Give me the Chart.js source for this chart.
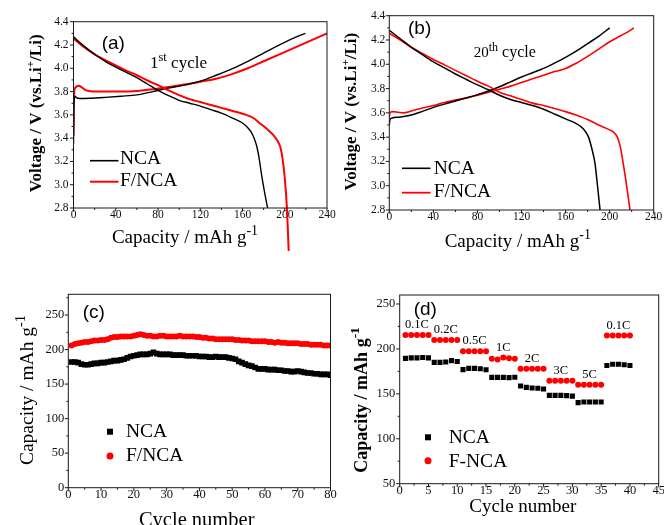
<!DOCTYPE html>
<html><head><meta charset="utf-8">
<script src="https://cdn.jsdelivr.net/npm/chart.js@4.4.0/dist/chart.umd.min.js"></script>
<style>
html,body{margin:0;padding:0;background:#fff;}
#wrap{position:relative;width:664px;height:525px;overflow:hidden;background:#fff;}
canvas{position:absolute;left:0;top:0;}
</style></head><body>
<div id="wrap">
<canvas id="pa" width="664" height="525"></canvas>
<canvas id="pb" width="664" height="525"></canvas>
<canvas id="pc" width="664" height="525"></canvas>
<canvas id="pd" width="664" height="525"></canvas>
</div>
<script>
// ---------------- DATA ----------------
// Panel (a): 1st cycle charge/discharge (capacity mAh/g, voltage V)
const aNcaChargeCap = [0, 0.5, 1.5, 3, 6, 15, 30, 45, 60, 75, 90, 105, 120, 135, 150, 165, 180, 195, 210, 219.5];
const aNcaChargeV   = [3.35, 3.70, 3.76, 3.745, 3.74, 3.742, 3.75, 3.76, 3.772, 3.80, 3.83, 3.855, 3.89, 3.94, 3.995, 4.06, 4.13, 4.20, 4.265, 4.30];
const aFncaChargeCap = [0, 0.5, 1.5, 3, 5, 8, 12, 20, 30, 45, 60, 75, 90, 105, 120, 135, 150, 165, 180, 195, 210, 225, 240];
const aFncaChargeV   = [3.42, 3.78, 3.83, 3.845, 3.85, 3.835, 3.81, 3.80, 3.80, 3.80, 3.805, 3.82, 3.84, 3.86, 3.885, 3.91, 3.95, 4.00, 4.06, 4.12, 4.18, 4.24, 4.30];
const aNcaDischCap = [0, 10, 20, 30, 40, 50, 60, 70, 80, 90, 100, 110, 120, 130, 140, 150, 160, 165, 168, 171, 173.5, 175.5, 177, 178.5, 181, 183.8];
const aNcaDischV   = [4.27, 4.19, 4.12, 4.06, 4.01, 3.965, 3.92, 3.865, 3.81, 3.765, 3.725, 3.70, 3.675, 3.645, 3.615, 3.575, 3.53, 3.49, 3.455, 3.40, 3.33, 3.24, 3.15, 3.06, 2.93, 2.80];
const aFncaDischCap = [0, 10, 20, 30, 40, 50, 60, 70, 80, 90, 100, 110, 120, 130, 140, 150, 160, 170, 177, 183, 189.5, 193, 195.8, 198, 200, 202, 203, 203.7];
const aFncaDischV   = [4.255, 4.18, 4.12, 4.07, 4.025, 3.98, 3.94, 3.895, 3.855, 3.81, 3.77, 3.735, 3.71, 3.685, 3.66, 3.635, 3.61, 3.575, 3.524, 3.48, 3.423, 3.38, 3.323, 3.22, 3.06, 2.81, 2.60, 2.43];
const aTicksX = [0, 40, 80, 120, 160, 200, 240];
const aTicksY = [2.8, 3.0, 3.2, 3.4, 3.6, 3.8, 4.0, 4.2, 4.4];

// Panel (b): 20th cycle
const bNcaChargeCap = [0, 0.5, 2, 10, 20, 30, 40, 50, 60, 70, 80, 90, 100, 110, 120, 130, 140, 150, 160, 170, 180, 190, 200];
const bNcaChargeV   = [3.50, 3.54, 3.555, 3.565, 3.582, 3.612, 3.645, 3.672, 3.697, 3.722, 3.75, 3.78, 3.815, 3.855, 3.895, 3.93, 3.966, 4.01, 4.057, 4.11, 4.17, 4.23, 4.30];
const bFncaChargeCap = [0, 0.5, 3, 8, 13, 20, 30, 40, 50, 60, 70, 80, 90, 100, 110, 120, 130, 140, 150, 160, 170, 180, 190, 200, 210, 218, 222];
const bFncaChargeV   = [3.56, 3.60, 3.61, 3.605, 3.60, 3.615, 3.64, 3.66, 3.685, 3.705, 3.725, 3.745, 3.77, 3.795, 3.82, 3.85, 3.88, 3.91, 3.94, 3.965, 4.01, 4.065, 4.125, 4.185, 4.235, 4.275, 4.30];
const bNcaDischCap = [0, 10, 20, 30, 40, 50, 60, 70, 80, 90, 100, 110, 120, 130, 140, 150, 160, 170, 176, 180.7, 184, 186.7, 189, 191.3];
const bNcaDischV   = [4.28, 4.21, 4.14, 4.08, 4.02, 3.97, 3.92, 3.875, 3.83, 3.79, 3.745, 3.71, 3.685, 3.66, 3.63, 3.59, 3.55, 3.51, 3.47, 3.404, 3.30, 3.184, 3.00, 2.80];
const bFncaDischCap = [0, 10, 20, 30, 40, 50, 60, 70, 80, 90, 100, 110, 120, 130, 140, 150, 160, 170, 180, 190, 200, 204, 207, 209.7, 212, 214.3, 216.5, 218.5];
const bFncaDischV   = [4.255, 4.20, 4.14, 4.09, 4.04, 3.995, 3.95, 3.905, 3.86, 3.82, 3.77, 3.74, 3.71, 3.68, 3.66, 3.635, 3.61, 3.58, 3.545, 3.50, 3.46, 3.437, 3.40, 3.32, 3.20, 3.07, 2.93, 2.80];
const bTicksX = [0, 40, 80, 120, 160, 200, 240];
const bTicksY = [2.8, 3.0, 3.2, 3.4, 3.6, 3.8, 4.0, 4.2, 4.4];

// Panel (c): cycling (cycle number, capacity mAh/g)
const cCycles = [1,2,3,4,5,6,7,8,9,10,11,12,13,14,15,16,17,18,19,20,21,22,23,24,25,26,27,28,29,30,31,32,33,34,35,36,37,38,39,40,41,42,43,44,45,46,47,48,49,50,51,52,53,54,55,56,57,58,59,60,61,62,63,64,65,66,67,68,69,70,71,72,73,74,75,76,77,78,79,80];
const cNca = [182,182,181,179,178,178,179,180,180,181,181,182,183,184,184,185,186,188,190,191,192,193,193,193,194,196,194,193,193,193,193,192,192,192,192,191,191,191,191,190,190,190,189,189,190,189,189,189,188,187,186,183,181,179,177,176,174,172,172,172,171,171,171,170,170,169,169,168,168,169,168,167,166,166,165,165,164,164,164,163];
const cFnca = [206,208,209,210,211,211,212,213,213,214,214,215,217,218,218,219,219,219,219,220,221,222,221,220,220,219,219,220,220,219,219,219,219,220,219,219,219,219,218,218,217,217,216,216,215,215,215,215,215,215,214,214,213,213,213,212,212,212,212,212,211,211,210,211,210,210,209,209,209,209,208,208,208,207,207,207,207,206,206,206];
const cTicksX = [0, 10, 20, 30, 40, 50, 60, 70, 80];
const cTicksY = [0, 50, 100, 150, 200, 250];

// Panel (d): rate capability
const dCycles = [1,2,3,4,5,6,7,8,9,10,11,12,13,14,15,16,17,18,19,20,21,22,23,24,25,26,27,28,29,30,31,32,33,34,35,36,37,38,39,40];
const dNca  = [189.5,190,190,190.5,190, 185,185,185.5,187,186, 177,178.3,178.3,178,176.8, 168.3,168.3,168.3,168,168.5, 158.7,157.2,156.5,156.3,155.4, 148.3,148.3,148.3,148,147.5, 140.2,141,141,141,141, 181.6,183,183,182.3,181.6];
const dFnca = [215.5,215.5,215.5,215.5,215.5, 210,210,210,210,210, 197.5,197.5,197.5,197.5,197.5, 189,188.3,190.5,189.7,189, 178,178,178,178,178, 164.6,164.6,164.6,164.6,164.6, 160.2,160.2,160.2,160.2,160.2, 214.9,214.9,214.9,214.9,214.9];
const dRateLabels = ['0.1C', '0.2C', '0.5C', '1C', '2C', '3C', '5C', '0.1C'];
const dTicksX = [0, 5, 10, 15, 20, 25, 30, 35, 40, 45];
const dTicksY = [50, 100, 150, 200, 250];

const seriesNames = ['NCA', 'F/NCA'];
const seriesNamesD = ['NCA', 'F-NCA'];

// ---------------- TEXT ----------------
const TXT = {
  capTitle: 'Capacity / mAh g', capSup: '-1',
  voltTitleA: 'Voltage / V (vs.Li', voltSup: '+', voltTitleB: '/Li)',
  cycleTitle: 'Cycle number',
};

// ---------------- LAYOUT / STYLE ----------------
const W = 664, H = 525, YW = 50, XH = 30;
const SERIF = '"Liberation Serif", "Times New Roman", serif';
const SANS = '"Liberation Sans", Arial, sans-serif';
const BLACK = '#000000', RED = '#ff0000';

const pts = (xs, ys) => xs.map((x, i) => ({x: x, y: ys[i]}));
const lineDs = (label, xs, ys, color, w, extra) => Object.assign({
  label: label, data: pts(xs, ys), showLine: true, borderColor: color, backgroundColor: color,
  borderWidth: w, pointRadius: 0, fill: false, cubicInterpolationMode: 'monotone'
}, extra || {});
const markDs = (label, xs, ys, color, style, r) => ({
  label: label, data: pts(xs, ys), showLine: false, pointStyle: style, pointRadius: r,
  backgroundColor: color, borderColor: color, pointBorderWidth: 0, borderWidth: 0
});

function fontOf(p) { return (p.bold ? 'bold ' : '') + p.size + 'px ' + (p.family || SERIF); }
function rich(ctx, it) {
  ctx.save();
  ctx.fillStyle = it.color || '#000';
  ctx.textBaseline = 'alphabetic'; ctx.textAlign = 'left';
  let total = 0; const ws = [];
  it.parts.forEach(p => { ctx.font = fontOf(p); const w = ctx.measureText(p.t).width; ws.push(w); total += w; });
  ctx.translate(it.x, it.y);
  if (it.rot) ctx.rotate(-Math.PI / 2);
  let cx = it.align === 'center' ? -total / 2 : 0;
  it.parts.forEach((p, i) => { ctx.font = fontOf(p); ctx.fillText(p.t, cx, p.dy || 0); cx += ws[i]; });
  ctx.restore();
}

const DECOR = {};
function minorVals(min, max, step) {
  const out = []; const k0 = Math.ceil(min / step - 1e-6), k1 = Math.floor(max / step + 1e-6);
  for (let k = k0; k <= k1; k++) out.push(Math.round(k * step * 1e6) / 1e6);
  return out;
}
const decorPlugin = {
  id: 'decor',
  afterDraw(chart) {
    const o = DECOR[chart.canvas.id]; if (!o) return;
    const ctx = chart.ctx, A = chart.chartArea, xs = chart.scales.x, ys = chart.scales.y;
    ctx.save();
    ctx.strokeStyle = '#1a1a1a'; ctx.lineWidth = 1;
    ctx.strokeRect(A.left, A.top, A.right - A.left, A.bottom - A.top);
    ctx.beginPath();
    minorVals(xs.min, xs.max, o.minorX).forEach(v => {
      const maj = o.ticksX.some(t => Math.abs(t - v) < 1e-6);
      const p = xs.getPixelForValue(v);
      ctx.moveTo(p, A.bottom); ctx.lineTo(p, A.bottom + (maj ? 3.5 : 2));
    });
    minorVals(ys.min, ys.max, o.minorY).forEach(v => {
      const maj = o.ticksY.some(t => Math.abs(t - v) < 1e-6);
      const p = ys.getPixelForValue(v);
      ctx.moveTo(A.left, p); ctx.lineTo(A.left - (maj ? 3.5 : 2), p);
    });
    ctx.stroke();
    // legend
    (o.legend || []).forEach(l => {
      const ds = chart.data.datasets[l.ds];
      ctx.fillStyle = ds.borderColor; ctx.strokeStyle = ds.borderColor;
      if (l.type === 'line') {
        ctx.lineWidth = l.lw; ctx.beginPath(); ctx.moveTo(l.x1, l.y); ctx.lineTo(l.x2, l.y); ctx.stroke();
      } else if (l.type === 'rect') {
        ctx.fillRect(l.x - l.s / 2, l.y - l.s / 2, l.s, l.s);
      } else {
        ctx.beginPath(); ctx.arc(l.x, l.y, l.s / 2, 0, Math.PI * 2); ctx.fill();
      }
      rich(ctx, {parts: [{t: ds.label, size: l.fs}], x: l.tx, y: l.ty});
    });
    // rate labels (panel d)
    if (o.rate) {
      const red = chart.data.datasets[1].data;
      ctx.font = o.rate.fs + 'px ' + SERIF; ctx.fillStyle = '#000';
      ctx.textAlign = 'center'; ctx.textBaseline = 'middle';
      dRateLabels.forEach((lab, g) => {
        const grp = red.slice(g * 5, g * 5 + 5);
        const cx = grp.reduce((s, p) => s + p.x, 0) / grp.length;
        const top = Math.max.apply(null, grp.map(p => p.y));
        ctx.fillText(lab, xs.getPixelForValue(cx), ys.getPixelForValue(top) - o.rate.off);
      });
    }
    (o.texts || []).forEach(t => rich(ctx, t));
    ctx.restore();
  }
};

function axis(ax, horiz) {
  return {
    type: 'linear', position: horiz ? 'bottom' : 'left', min: ax.min, max: ax.max,
    afterBuildTicks: s => { s.ticks = ax.ticks.map(v => ({value: v})); },
    afterFit: s => { if (horiz) s.height = XH; else s.width = YW; s.paddingLeft = 0; s.paddingRight = 0; s.paddingTop = 0; s.paddingBottom = 0; },
    ticks: { autoSkip: false, maxRotation: 0, minRotation: 0, padding: ax.pad, color: '#111',
      font: {family: SERIF, size: ax.fs}, callback: v => ax.dec ? Number(v).toFixed(ax.dec) : String(v) },
    grid: { display: false, drawTicks: false, tickLength: 0 },
    border: { display: false },
    title: { display: false }
  };
}
function panel(id, area, datasets, xax, yax) {
  return new Chart(document.getElementById(id), {
    type: 'scatter',
    data: { datasets: datasets },
    options: {
      responsive: false, animation: false, events: [],
      layout: { padding: { left: area.l - YW, top: area.t, right: W - area.r, bottom: H - area.b - XH } },
      plugins: { legend: {display: false}, tooltip: {enabled: false} },
      scales: { x: axis(xax, true), y: axis(yax, false) }
    },
    plugins: [decorPlugin]
  });
}

// ---- Panel (a)
DECOR.pa = {
  ticksX: aTicksX, ticksY: aTicksY, minorX: 20, minorY: 0.1,
  legend: [
    {ds: 0, type: 'line', x1: 90, x2: 118.5, y: 160.7, lw: 1.6, tx: 120, ty: 163.5, fs: 19.5},
    {ds: 1, type: 'line', x1: 90, x2: 118.5, y: 181.7, lw: 2, tx: 120, ty: 185.5, fs: 19.5}
  ],
  texts: [
    {parts: [{t: '(a)', size: 19, family: SANS}], x: 101.7, y: 48.5},
    {parts: [{t: '1', size: 17}, {t: 'st', size: 12.5, dy: -7}, {t: ' cycle', size: 17}], x: 150, y: 68.3},
    {parts: [{t: TXT.capTitle, size: 19}, {t: TXT.capSup, size: 14, dy: -8}], x: 185, y: 242.7, align: 'center'},
    {parts: [{t: TXT.voltTitleA, size: 17, bold: true}, {t: TXT.voltSup, size: 11, bold: true, dy: -7}, {t: TXT.voltTitleB, size: 17, bold: true}], x: 40.5, y: 113.3, align: 'center', rot: true}
  ]
};
panel('pa', {l: 73.5, t: 21.7, r: 327, b: 208}, [
  lineDs(seriesNames[0], aNcaDischCap, aNcaDischV, BLACK, 1.4),
  lineDs(seriesNames[1], aFncaDischCap, aFncaDischV, RED, 2, {clip: false}),
  lineDs(seriesNames[0] + ' charge', aNcaChargeCap, aNcaChargeV, BLACK, 1.4),
  lineDs(seriesNames[1] + ' charge', aFncaChargeCap, aFncaChargeV, RED, 2)
], {min: 0, max: 240, ticks: aTicksX, pad: 0, fs: 11.5},
   {min: 2.8, max: 4.4, ticks: aTicksY, pad: 5, fs: 11.5, dec: 1});

// ---- Panel (b)
DECOR.pb = {
  ticksX: bTicksX, ticksY: bTicksY, minorX: 20, minorY: 0.1,
  legend: [
    {ds: 0, type: 'line', x1: 402, x2: 430.5, y: 168.3, lw: 1.6, tx: 433.7, ty: 174, fs: 19.5},
    {ds: 1, type: 'line', x1: 402, x2: 430.5, y: 192.7, lw: 1.8, tx: 433.7, ty: 196.7, fs: 19.5}
  ],
  texts: [
    {parts: [{t: '(b)', size: 19, family: SANS}], x: 408, y: 33.5},
    {parts: [{t: '20', size: 15}, {t: 'th', size: 12, dy: -6}, {t: ' cycle', size: 16}], x: 473.7, y: 56.7},
    {parts: [{t: TXT.capTitle, size: 19}, {t: TXT.capSup, size: 14, dy: -8}], x: 517.8, y: 246.7, align: 'center'},
    {parts: [{t: TXT.voltTitleA, size: 17, bold: true}, {t: TXT.voltSup, size: 11, bold: true, dy: -7}, {t: TXT.voltTitleB, size: 17, bold: true}], x: 356.3, y: 111.7, align: 'center', rot: true}
  ]
};
panel('pb', {l: 389.3, t: 15.7, r: 653.7, b: 210}, [
  lineDs(seriesNames[0], bNcaDischCap, bNcaDischV, BLACK, 1.5),
  lineDs(seriesNames[1], bFncaDischCap, bFncaDischV, RED, 1.6),
  lineDs(seriesNames[0] + ' charge', bNcaChargeCap, bNcaChargeV, BLACK, 1.5),
  lineDs(seriesNames[1] + ' charge', bFncaChargeCap, bFncaChargeV, RED, 1.6)
], {min: 0, max: 240, ticks: bTicksX, pad: 0, fs: 11.5},
   {min: 2.8, max: 4.4, ticks: bTicksY, pad: 4, fs: 11.5, dec: 1});

// ---- Panel (c)
DECOR.pc = {
  ticksX: cTicksX, ticksY: cTicksY, minorX: 5, minorY: 25,
  legend: [
    {ds: 0, type: 'rect', x: 110, y: 431.7, s: 6, tx: 126, ty: 436.7, fs: 19.5},
    {ds: 1, type: 'circle', x: 110, y: 456, s: 7, tx: 126, ty: 460.7, fs: 19.5}
  ],
  texts: [
    {parts: [{t: '(c)', size: 19, family: SANS}], x: 82.7, y: 317.5},
    {parts: [{t: TXT.cycleTitle, size: 20.5}], x: 196.7, y: 525.5, align: 'center'},
    {parts: [{t: TXT.capTitle, size: 19.5}, {t: TXT.capSup, size: 14.5, dy: -8}], x: 33, y: 390, align: 'center', rot: true}
  ]
};
panel('pc', {l: 68.3, t: 294.3, r: 330.5, b: 487.7}, [
  markDs(seriesNames[0], cCycles, cNca, BLACK, 'rect', 4),
  markDs(seriesNames[1], cCycles, cFnca, RED, 'circle', 3)
], {min: 0, max: 80, ticks: cTicksX, pad: 0, fs: 12.5},
   {min: 0, max: 280, ticks: cTicksY, pad: 4, fs: 12.5});

// ---- Panel (d)
DECOR.pd = {
  ticksX: dTicksX, ticksY: dTicksY, minorX: 2.5, minorY: 25,
  rate: {fs: 12.5, off: 10},
  legend: [
    {ds: 0, type: 'rect', x: 428, y: 437.3, s: 6, tx: 448.7, ty: 442.7, fs: 19.5},
    {ds: 1, type: 'circle', x: 428, y: 460.7, s: 7, tx: 448.7, ty: 466.7, fs: 19.5}
  ],
  texts: [
    {parts: [{t: '(d)', size: 19, family: SANS}], x: 413.7, y: 315},
    {parts: [{t: TXT.cycleTitle, size: 19}], x: 522.8, y: 511.7, align: 'center'},
    {parts: [{t: TXT.capTitle, size: 18, bold: true}, {t: TXT.capSup, size: 13.5, bold: true, dy: -8}], x: 366.6, y: 400, align: 'center', rot: true}
  ]
};
panel('pd', {l: 399.7, t: 295, r: 658.7, b: 483.7}, [
  markDs(seriesNamesD[0], dCycles, dNca, BLACK, 'rect', 3.6),
  markDs(seriesNamesD[1], dCycles, dFnca, RED, 'circle', 3)
], {min: 0, max: 45, ticks: dTicksX, pad: 0, fs: 12.5},
   {min: 50, max: 260, ticks: dTicksY, pad: 4.4, fs: 12.5});
</script>
</body></html>
